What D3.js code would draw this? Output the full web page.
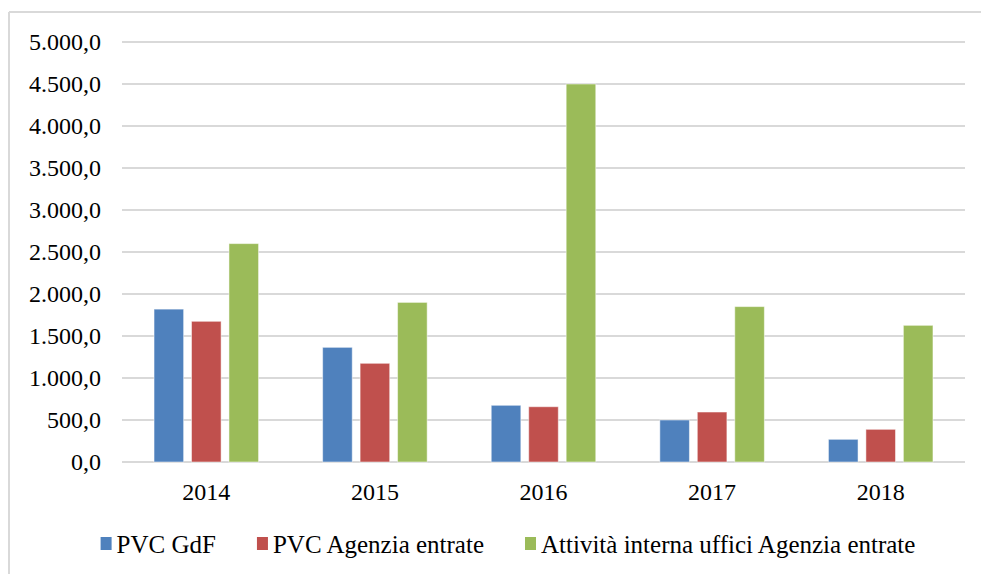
<!DOCTYPE html>
<html>
<head>
<meta charset="utf-8">
<script src="https://cdn.jsdelivr.net/npm/d3@7"></script>
<style>
  body { margin: 0; background: #fff; }
</style>
</head>
<body>
<script>
'use strict';

const years = ['2014', '2015', '2016', '2017', '2018'];
const seriesNames = ['PVC GdF', 'PVC Agenzia entrate', 'Attività interna uffici Agenzia entrate'];
const pvcGdf = [1820, 1365, 675, 500, 270];
const pvcAgenzia = [1675, 1175, 658, 595, 389];
const attivitaInterna = [2600, 1900, 4500, 1850, 1627];
const yTicks = [0, 500, 1000, 1500, 2000, 2500, 3000, 3500, 4000, 4500, 5000];
const colors = ['#4F81BD', '#C0504D', '#9BBB59'];

(function() {
  const seriesValues = [pvcGdf, pvcAgenzia, attivitaInterna];
  const serif = "'Liberation Serif', 'DejaVu Serif', serif";

  const width = 981, height = 574;
  const svg = d3.select('body').append('svg')
    .attr('width', width)
    .attr('height', height)
    .attr('font-family', serif);

  // chart frame (only top and left edges show)
  svg.append('line').attr('x1', 9).attr('x2', width).attr('y1', 12).attr('y2', 12)
    .attr('stroke', '#d9d9d9').attr('stroke-width', 2);
  svg.append('line').attr('x1', 9).attr('x2', 9).attr('y1', 12).attr('y2', height)
    .attr('stroke', '#d9d9d9').attr('stroke-width', 2);

  const plotLeft = 122, plotRight = 965, plotTop = 42, plotBottom = 462;

  const y = d3.scaleLinear().domain([0, 5000]).range([plotBottom, plotTop]);
  const x0 = d3.scaleBand().domain(years).range([plotLeft, plotRight])
    .paddingInner(0.38).paddingOuter(0.19);
  const x1 = d3.scaleBand().domain(d3.range(3)).range([0, x0.bandwidth()])
    .paddingInner(0.21);

  // Italian number format: 5.000,0
  const it = d3.formatLocale({ decimal: ',', thousands: '.', grouping: [3], currency: ['€', ''] });
  const fmt = it.format(',.1f');

  // gridlines
  svg.append('g').selectAll('line')
    .data(yTicks)
    .join('line')
    .attr('x1', plotLeft).attr('x2', plotRight)
    .attr('y1', d => y(d)).attr('y2', d => y(d))
    .attr('stroke', '#d9d9d9').attr('stroke-width', 2);

  // y labels
  svg.append('g').selectAll('text')
    .data(yTicks)
    .join('text')
    .attr('x', 101)
    .attr('y', d => y(d))
    .attr('dy', '0.34em')
    .attr('text-anchor', 'end')
    .attr('font-family', serif)
    .style('font-size', '24px')
    .text(d => fmt(d));

  // bars
  const rows = years.map((yr, i) => ({ year: yr, vals: seriesValues.map(s => s[i]) }));
  const groups = svg.append('g').selectAll('g')
    .data(rows)
    .join('g')
    .attr('transform', d => `translate(${x0(d.year)},0)`);

  groups.selectAll('rect')
    .data(d => d.vals.map((v, k) => ({ k: k, v: v })))
    .join('rect')
    .attr('x', d => x1(d.k))
    .attr('width', x1.bandwidth())
    .attr('y', d => y(d.v))
    .attr('height', d => y(0) - y(d.v))
    .attr('fill', d => colors[d.k])
    .attr('stroke', '#ffffff')
    .attr('stroke-opacity', 0.5)
    .attr('stroke-width', 1);

  // x labels
  svg.append('g').selectAll('text')
    .data(years)
    .join('text')
    .attr('x', d => x0(d) + x0.bandwidth() / 2)
    .attr('y', 500)
    .attr('text-anchor', 'middle')
    .attr('font-family', serif)
    .style('font-size', '24px')
    .text(d => d);

  // legend
  const legend = svg.append('g');
  let lx = 0;
  const gap = 41;
  seriesNames.forEach((name, i) => {
    const item = legend.append('g').attr('transform', `translate(${lx},0)`);
    item.append('rect')
      .attr('x', 0).attr('y', -16)
      .attr('width', 11).attr('height', 13)
      .attr('fill', colors[i]);
    const t = item.append('text')
      .attr('x', 16).attr('y', 0)
      .attr('font-family', serif)
      .style('font-size', '25px')
      .text(name);
    lx += 16 + t.node().getComputedTextLength() + gap;
  });
  const legendWidth = lx - gap;
  legend.attr('transform', `translate(${508 - legendWidth / 2},553)`);
})();
</script>
</body>
</html>
